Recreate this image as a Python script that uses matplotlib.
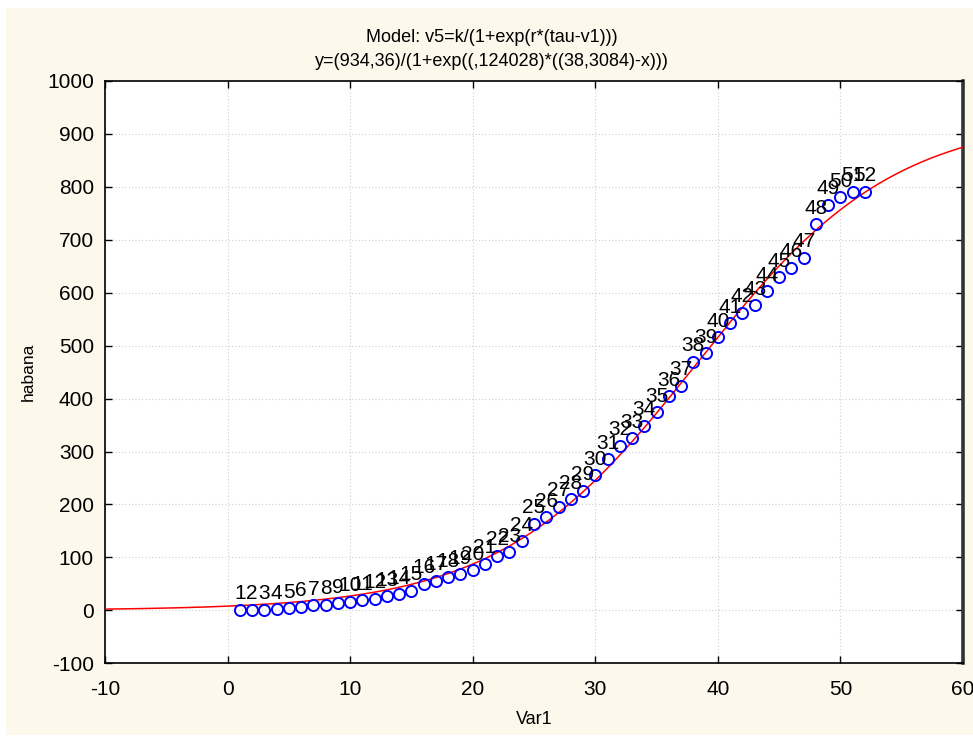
import numpy as np
import matplotlib
matplotlib.use("Agg")
import matplotlib.pyplot as plt
from matplotlib.patches import Rectangle

plt.rcParams['font.family'] = ['Liberation Sans', 'DejaVu Sans']
plt.rcParams['axes.unicode_minus'] = False

# Day index and cumulative count for habana
var1 = list(range(1, 53))
habana = [1, 1, 1, 2, 4, 7, 10, 11, 14, 16,
          19, 22, 27, 31, 37, 50, 56, 63, 68, 76,
          88, 103, 110, 131, 164, 176, 196, 210, 226, 255,
          286, 311, 325, 349, 374, 405, 424, 470, 486, 516,
          543, 562, 577, 603, 629, 647, 666, 730, 766, 781,
          791, 791]
point_labels = [str(i) for i in var1]

# Fitted logistic parameters
k_fit = 934.36
r_fit = 0.124028
tau_fit = 38.3084

x_ticks = [-10, 0, 10, 20, 30, 40, 50, 60]
y_ticks = [-100, 0, 100, 200, 300, 400, 500, 600, 700, 800, 900, 1000]

title_lines = ["Model: v5=k/(1+exp(r*(tau-v1)))",
               "y=(934,36)/(1+exp((,124028)*((38,3084)-x)))"]

fig = plt.figure(figsize=(9.73, 7.36), dpi=100)
fig.patch.set_facecolor('white')
fig.add_artist(Rectangle((6 / 973, 1 / 736), 1 - 6 / 973, 1 - 9 / 736,
                         transform=fig.transFigure, facecolor='#fdf8ec',
                         edgecolor='none', zorder=0))

ax = fig.add_axes([105 / 973, (736 - 663.3) / 736, (963 - 105) / 973, (663.3 - 81) / 736])
ax.set_facecolor('white')

xs = np.linspace(-10, 60, 400)
ys = k_fit / (1 + np.exp(r_fit * (tau_fit - xs)))
ax.plot(xs, ys, color='#ff0000', lw=1.1, zorder=3)

ax.plot(var1, habana, linestyle='none', marker='o', markersize=8,
        markerfacecolor='none', markeredgecolor='#0000ff', markeredgewidth=1.4,
        zorder=4)

for xv, yv, lab in zip(var1, habana, point_labels):
    ax.annotate(lab, (xv, yv), xytext=(0, 7.5), textcoords='offset points',
                ha='center', va='baseline', fontsize=15, color='black', zorder=5)

ax.set_xlim(-10, 60)
ax.set_ylim(-100, 1000)
ax.set_xticks(x_ticks)
ax.set_yticks(y_ticks)
ax.tick_params(direction='in', length=5, width=1, labelsize=15,
               top=True, right=True)
ax.tick_params(axis='x', pad=12)
ax.tick_params(axis='y', pad=8)
ax.grid(True, color='#d0d0d0', linestyle=(0, (1, 2)), linewidth=0.8)
ax.set_axisbelow(True)
for side in ['left', 'bottom', 'top']:
    ax.spines[side].set_linewidth(1.2)
ax.spines['right'].set_linewidth(2.6)
ax.spines['right'].set_color('#333333')

ax.set_xlabel('Var1', fontsize=13, labelpad=9)
ax.set_ylabel('habana', fontsize=12.5, labelpad=8)

fig.text(0.505, 1 - 38 / 736, title_lines[0], ha='center', va='center', fontsize=13)
fig.text(0.505, 1 - 62 / 736, title_lines[1], ha='center', va='center', fontsize=13)

fig.savefig('out.png', dpi=100)
